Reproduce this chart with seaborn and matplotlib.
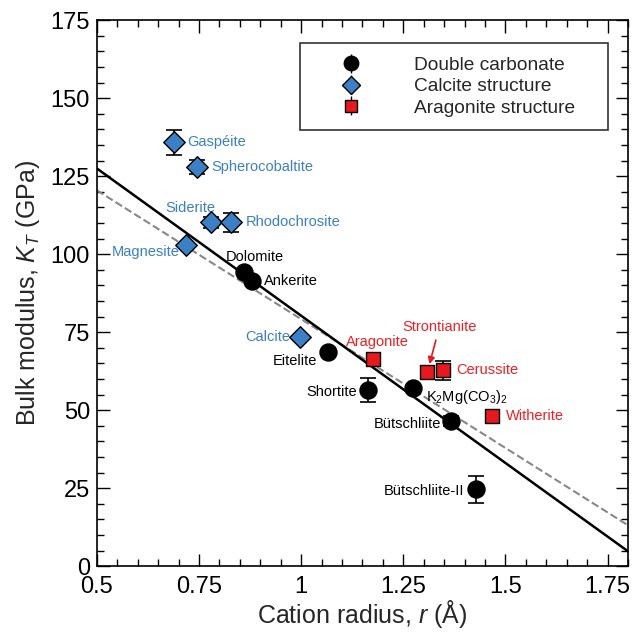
import numpy as np
import pandas as pd
import seaborn as sns
import matplotlib.pyplot as plt
from matplotlib.ticker import MultipleLocator, FixedLocator, FixedFormatter

# data
names = ['Dolomite', 'Ankerite', 'Eitelite', 'Shortite', 'K$_2$Mg(CO$_3$)$_2$',
         'Bütschliite', 'Bütschliite-II',
         'Gaspéite', 'Spherocobaltite', 'Siderite', 'Rhodochrosite', 'Magnesite', 'Calcite',
         'Aragonite', 'Strontianite', 'Cerussite', 'Witherite']
groups = ['Double carbonate'] * 7 + ['Calcite structure'] * 6 + ['Aragonite structure'] * 4
radius = [0.859, 0.879, 1.065, 1.163, 1.273, 1.366, 1.427,
          0.688, 0.745, 0.779, 0.828, 0.718, 0.998,
          1.177, 1.309, 1.348, 1.468]
kt = [94.2, 91.3, 68.6, 56.4, 57.1, 46.6, 24.6,
      135.9, 127.9, 110.2, 110.2, 102.9, 73.4,
      66.3, 62.2, 62.8, 48.1]
kt_err = [0, 0, 0, 3.8, 0, 1.6, 4.2,
          4.0, 2.3, 1.8, 3.0, 0, 0,
          0, 0, 3.0, 0]

# fit lines (slope, intercept)
fit_solid = (-94.4, 174.7)
fit_dashed = (-82.6, 161.8)

df = pd.DataFrame({'name': names, 'group': groups, 'r': radius, 'K': kt, 'err': kt_err})

colors = {'Double carbonate': 'black', 'Calcite structure': '#3b7fc4', 'Aragonite structure': '#e5191e'}
text_colors = {'Double carbonate': 'black', 'Calcite structure': '#3b7fc4', 'Aragonite structure': '#ee2024'}
markers = {'Double carbonate': 'o', 'Calcite structure': 'D', 'Aragonite structure': 's'}
msizes = {'Double carbonate': 150, 'Calcite structure': 120, 'Aragonite structure': 95}

# label offsets in pixels (dx, dy, ha)
offsets = {
    'Dolomite': (11, 15, 'center'), 'Ankerite': (12, 0, 'left'), 'Eitelite': (-11, -9, 'right'),
    'Shortite': (-11, -2, 'right'), 'K$_2$Mg(CO$_3$)$_2$': (13, -9, 'left'),
    'Bütschliite': (-10, -3, 'right'), 'Bütschliite-II': (-11, -2, 'right'),
    'Gaspéite': (14, 0, 'left'), 'Spherocobaltite': (14, 0, 'left'), 'Siderite': (5, 14, 'right'),
    'Rhodochrosite': (15, 0, 'left'), 'Magnesite': (-6, -7, 'right'), 'Calcite': (-10, 0, 'right'),
    'Aragonite': (4, 17, 'center'), 'Strontianite': (12, 45, 'center'), 'Cerussite': (13, 0, 'left'),
    'Witherite': (14, 0, 'left'),
}

sns.set_style('ticks')
plt.rcParams['font.family'] = ['Liberation Sans', 'DejaVu Sans']
plt.rcParams['mathtext.fontset'] = 'custom'
plt.rcParams['mathtext.rm'] = 'Liberation Sans'
plt.rcParams['mathtext.it'] = 'Liberation Sans:italic'

fig = plt.figure(figsize=(6.33, 6.34), dpi=100)
ax = fig.add_axes([0.153, 0.107, 0.839, 0.861])

xs = np.array([0.5, 1.8])
sns.lineplot(x=xs, y=fit_dashed[0] * xs + fit_dashed[1], color='#888888', linestyle='--', lw=1.5, ax=ax)
sns.lineplot(x=xs, y=fit_solid[0] * xs + fit_solid[1], color='black', lw=1.8, ax=ax)

sub = df[df.err > 0]
ax.errorbar(sub.r, sub.K, yerr=sub.err, fmt='none', ecolor='black', elinewidth=1.2, capsize=6, capthick=1.2, zorder=3)

for g in ['Double carbonate', 'Calcite structure', 'Aragonite structure']:
    d = df[df.group == g]
    sns.scatterplot(data=d, x='r', y='K', marker=markers[g], color=colors[g], s=msizes[g],
                    edgecolor='black', linewidth=1.0, zorder=4, ax=ax, legend=False)

for _, row in df.iterrows():
    dx, dy, ha = offsets[row['name']]
    kw = {}
    if row['name'] == 'Strontianite':
        kw['arrowprops'] = dict(arrowstyle='-|>', color='#e5191e', lw=1.2, shrinkA=2, shrinkB=6,
                                mutation_scale=10)
    ax.annotate(row['name'], (row.r, row.K), xytext=(dx, dy), textcoords='offset pixels',
                ha=ha, va='center', fontsize=10.5, color=text_colors[row.group], **kw)

ax.set_xlim(0.5, 1.8)
ax.set_ylim(0, 175)
ax.xaxis.set_major_locator(FixedLocator([0.5, 0.75, 1.0, 1.25, 1.5, 1.75]))
ax.xaxis.set_major_formatter(FixedFormatter(['0.5', '0.75', '1', '1.25', '1.5', '1.75']))
ax.xaxis.set_minor_locator(MultipleLocator(0.05))
ax.yaxis.set_major_locator(MultipleLocator(25))
ax.yaxis.set_minor_locator(MultipleLocator(5))
ax.tick_params(which='both', direction='in', top=True, right=True, width=1.0, labelsize=17, colors='black')
ax.tick_params(which='major', length=9)
ax.tick_params(which='minor', length=5)
ax.tick_params(axis='x', which='major', pad=7)
ax.tick_params(axis='y', which='major', pad=5)
for s in ax.spines.values():
    s.set_linewidth(1.2)
    s.set_color('black')

ax.set_xlabel('Cation radius, $\\mathit{r}$ (Å)', fontsize=18, labelpad=0)
ax.set_ylabel('Bulk modulus, $\\mathit{K}_{\\mathit{T}}$ (GPa)', fontsize=18, labelpad=6)

handles = []
for g in ['Double carbonate', 'Calcite structure', 'Aragonite structure']:
    handles.append(ax.errorbar([], [], yerr=[], fmt=markers[g], color='black', mfc=colors[g], mec='black',
                               ms=np.sqrt(msizes[g]) * 0.85, capsize=5, elinewidth=1.0))
leg = ax.legend(handles, ['Double carbonate', 'Calcite structure', 'Aragonite structure'],
                loc='upper left', bbox_to_anchor=(0.382, 0.5, 0.58, 0.458), mode='expand',
                fontsize=13.8, frameon=True,
                fancybox=False, edgecolor='black', borderpad=0.7, handletextpad=1.25,
                labelspacing=0.2, handlelength=4.0, borderaxespad=0)
leg.get_frame().set_linewidth(1.2)

fig.savefig('out.png', dpi=100)
